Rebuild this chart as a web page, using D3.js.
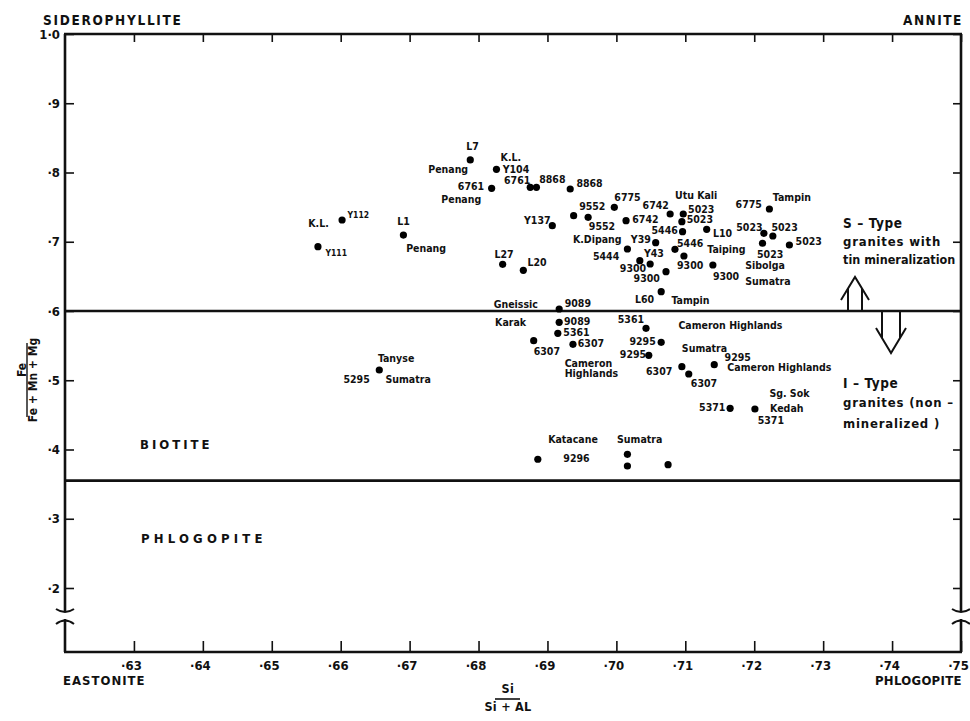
<!DOCTYPE html>
<html>
<head>
<meta charset="utf-8">
<script src="https://cdn.jsdelivr.net/npm/d3@7"></script>
<style>
  body { margin: 0; background: #fff; }
  text { font-family: "DejaVu Sans Condensed", "DejaVu Sans", sans-serif; fill: #111; }
</style>
</head>
<body>
<div id="chart"></div>
<script>
var svgWidth = 970;
var svgHeight = 721;

// axis ticks
var xTicks = [0.63, 0.64, 0.65, 0.66, 0.67, 0.68, 0.69, 0.70, 0.71, 0.72, 0.73, 0.74, 0.75];
var xTickLabels = ["·63", "·64", "·65", "·66", "·67", "·68", "·69", "·70", "·71", "·72", "·73", "·74", "·75"];
var yTicks = [1.0, 0.9, 0.8, 0.7, 0.6, 0.5, 0.4, 0.3, 0.2];
var yTickLabels = ["1·0", "·9", "·8", "·7", "·6", "·5", "·4", "·3", "·2"];

// field boundaries (Fe/(Fe+Mn+Mg))
var boundaries = [0.6, 0.355];

// biotite analyses: Si/(Si+Al) and Fe/(Fe+Mn+Mg)
var ptX = [0.6788, 0.6826, 0.6819, 0.6875, 0.6884, 0.6933, 0.6602, 0.6567, 0.6691, 0.6907,
           0.6938, 0.6959, 0.6835, 0.6865, 0.6917, 0.6917, 0.6915, 0.6880, 0.6937, 0.6656,
           0.6997, 0.7078, 0.7014, 0.7097, 0.7095, 0.7096, 0.7131, 0.7057, 0.7085, 0.7016,
           0.7098, 0.7034, 0.7049, 0.7072, 0.7140, 0.7065, 0.7222, 0.7214, 0.7227, 0.7212,
           0.7251, 0.7043, 0.7065, 0.7047, 0.7095, 0.7105, 0.7142, 0.7165, 0.7201, 0.6886,
           0.7016, 0.7016, 0.7075];
var ptY = [0.8181, 0.8046, 0.7772, 0.7786, 0.7786, 0.7762, 0.7314, 0.6929, 0.7097, 0.7232,
           0.7376, 0.7353, 0.6674, 0.6588, 0.6029, 0.5837, 0.5678, 0.5571, 0.5519, 0.5148,
           0.7497, 0.7401, 0.7304, 0.7401, 0.7290, 0.7145, 0.7180, 0.6987, 0.6891, 0.6895,
           0.6794, 0.6727, 0.6679, 0.6568, 0.6664, 0.6279, 0.7473, 0.7122, 0.7083, 0.6978,
           0.6953, 0.5750, 0.5548, 0.5360, 0.5196, 0.5090, 0.5225, 0.4595, 0.4585, 0.3859,
           0.3931, 0.3762, 0.3781];

// sample annotations, anchored in data units (left, baseline)
var labelText = ["L7", "K.L.", "Penang", "Y104", "6761", "Penang", "6761", "8868", "8868", "K.L.",
                 "Y112", "Y111", "L1", "Penang", "Y137", "9552", "L27", "L20", "Gneissic", "9089",
                 "6775", "6742", "Utu Kali", "5023", "9552", "6742", "5023", "5446", "L10", "K.Dipang",
                 "Y39", "5446", "Taiping", "5444", "Y43", "9300", "9300", "9300", "9300", "Sibolga",
                 "Sumatra", "L60", "Tampin", "6775", "Tampin", "5023", "5023", "5023", "5023", "5361",
                 "Cameron Highlands", "9089", "Karak", "5361", "6307", "6307", "Cameron", "Highlands", "Tanyse", "5295",
                 "Sumatra", "9295", "9295", "Sumatra", "9295", "Cameron Highlands", "6307", "6307", "Sg. Sok", "Kedah",
                 "5371", "5371", "Katacane", "Sumatra", "9296"];
var labelX = [0.6782, 0.6832, 0.6727, 0.6835, 0.6770, 0.6746, 0.6837, 0.6888, 0.6942, 0.6553,
              0.6610, 0.6578, 0.6682, 0.6695, 0.6866, 0.6946, 0.6823, 0.6871, 0.6822, 0.6925,
              0.6997, 0.7038, 0.7085, 0.7104, 0.6960, 0.7023, 0.7102, 0.7051, 0.7140, 0.6937,
              0.7021, 0.7088, 0.7132, 0.6966, 0.7040, 0.7005, 0.7025, 0.7088, 0.7140, 0.7187,
              0.7187, 0.7027, 0.7080, 0.7173, 0.7227, 0.7174, 0.7225, 0.7260, 0.7204, 0.7002,
              0.7090, 0.6924, 0.6824, 0.6923, 0.6944, 0.6880, 0.6925, 0.6925, 0.6654, 0.6604,
              0.6665, 0.7019, 0.7005, 0.7095, 0.7157, 0.7161, 0.7043, 0.7108, 0.7222, 0.7223,
              0.7120, 0.7205, 0.6901, 0.7001, 0.6923];
var labelY = [0.8325, 0.8170, 0.7997, 0.7997, 0.7747, 0.7564, 0.7834, 0.7853, 0.7786, 0.7217,
              0.7339, 0.6794, 0.7242, 0.6847, 0.7252, 0.7459, 0.6761, 0.6650, 0.6048, 0.6053,
              0.7588, 0.7477, 0.7613, 0.7411, 0.7170, 0.7266, 0.7266, 0.7112, 0.7073, 0.6978,
              0.6978, 0.6929, 0.6833, 0.6736, 0.6775, 0.6568, 0.6423, 0.6602, 0.6447, 0.6602,
              0.6375, 0.6120, 0.6101, 0.7483, 0.7584, 0.7160, 0.7160, 0.6953, 0.6761, 0.5822,
              0.5740, 0.5798, 0.5783, 0.5639, 0.5476, 0.5365, 0.5187, 0.5043, 0.5268, 0.4965,
              0.4960, 0.5509, 0.5326, 0.5412, 0.5278, 0.5138, 0.5076, 0.4898, 0.4754, 0.4546,
              0.4560, 0.4368, 0.4089, 0.4098, 0.3824];
var smallLabels = ["Y112", "Y111"];

// plot box in pixels
var plotLeft = 65, plotRight = 961, plotTop = 34, plotBottom = 652;

var svg = d3.select("#chart")
  .append("svg")
  .attr("width", svgWidth)
  .attr("height", svgHeight);

var x = d3.scaleLinear().domain([0.62, 0.75]).range([plotLeft, plotRight]);
var y = d3.scaleLinear().domain([0.2, 1.0]).range([588, plotTop]);

// axes (ticks point inwards)
var bottomAxis = d3.axisBottom(x).tickValues(xTicks).tickSize(-11).tickPadding(9)
  .tickFormat((d, i) => xTickLabels[i]);
var leftAxis = d3.axisLeft(y).tickValues(yTicks).tickSize(-9).tickPadding(5)
  .tickFormat((d, i) => yTickLabels[i]);
var topAxis = d3.axisTop(x).tickValues(xTicks).tickSize(-8).tickFormat("");
var rightAxis = d3.axisRight(y).tickValues(yTicks).tickSize(-8).tickFormat("");

function styleAxis(g) {
  g.select(".domain").remove();
  g.selectAll("line").attr("stroke", "#111").attr("stroke-width", 1.6);
  g.selectAll("text")
    .attr("font-family", "DejaVu Sans Condensed, DejaVu Sans, sans-serif")
    .attr("font-size", "13px")
    .attr("font-weight", "bold")
    .attr("fill", "#111");
}

svg.append("g").attr("transform", `translate(0, ${plotBottom})`).call(bottomAxis).call(styleAxis)
  .selectAll("text").attr("dx", "-3");
svg.append("g").attr("transform", `translate(${plotLeft}, 0)`).call(leftAxis).call(styleAxis);
svg.append("g").attr("transform", `translate(0, ${plotTop})`).call(topAxis).call(styleAxis);
svg.append("g").attr("transform", `translate(${plotRight}, 0)`).call(rightAxis).call(styleAxis);

// frame with axis breaks
var frame = svg.append("g")
  .attr("fill", "none")
  .attr("stroke", "#111")
  .attr("stroke-width", 2.6);
frame.append("line").attr("x1", plotLeft - 1).attr("x2", plotRight + 1).attr("y1", plotTop).attr("y2", plotTop);
frame.append("line").attr("x1", plotLeft - 1).attr("x2", plotRight + 1).attr("y1", plotBottom).attr("y2", plotBottom);
[plotLeft, plotRight].forEach(function(xx) {
  frame.append("line").attr("x1", xx).attr("x2", xx).attr("y1", plotTop).attr("y2", 611);
  frame.append("line").attr("x1", xx).attr("x2", xx).attr("y1", 619).attr("y2", plotBottom);
  frame.append("path").attr("stroke-width", 2)
    .attr("d", `M${xx - 9},609 Q${xx},615 ${xx + 9},609`);
  frame.append("path").attr("stroke-width", 2)
    .attr("d", `M${xx - 9},624 Q${xx},617 ${xx + 9},624`);
});

// field boundaries
svg.append("g").selectAll("line")
  .data(boundaries)
  .enter()
  .append("line")
  .attr("x1", plotLeft).attr("x2", plotRight)
  .attr("y1", d => y(d)).attr("y2", d => y(d))
  .attr("stroke", "#111")
  .attr("stroke-width", 2.6);

// sample points
svg.append("g").selectAll("circle")
  .data(ptX)
  .enter()
  .append("circle")
  .attr("cx", d => x(d))
  .attr("cy", (d, i) => y(ptY[i]))
  .attr("r", 3.6)
  .attr("fill", "#000");

// sample labels
svg.append("g").selectAll("text")
  .data(labelText)
  .enter()
  .append("text")
  .attr("x", (d, i) => x(labelX[i]))
  .attr("y", (d, i) => y(labelY[i]))
  .attr("font-size", d => smallLabels.includes(d) ? "8.5px" : "10.5px")
  .attr("font-weight", "bold")
  .text(d => d);

// end-member and field names
function label(txt, xx, yy, size, spacing) {
  return svg.append("text")
    .attr("x", xx).attr("y", yy)
    .attr("font-size", size + "px")
    .attr("font-weight", "bold")
    .attr("letter-spacing", spacing)
    .text(txt);
}
label("SIDEROPHYLLITE", 43, 25, 13.5, 1.7);
label("ANNITE", 903, 25, 13.5, 1.5);
label("EASTONITE", 63, 685, 13, 1);
label("PHLOGOPITE", 875, 685, 13, 0.3);
label("BIOTITE", 140, 449, 13, 3);
label("PHLOGOPITE", 141, 543, 13, 4.2);

label("S – Type", 843, 228, 13.5, 0.6);
label("granites with", 843, 246, 13, 0.8);
label("tin mineralization", 843, 264, 12.5, 0);
label("I – Type", 843, 388, 13.5, 0.6);
label("granites (non –", 843, 407, 13, 0.8);
label("mineralized )", 843, 428, 13, 0.8);

// x title: Si / (Si + Al)
label("Si", 508, 693, 12.5, 0.5).attr("text-anchor", "middle");
svg.append("line").attr("x1", 495).attr("x2", 520).attr("y1", 699).attr("y2", 699)
  .attr("stroke", "#111").attr("stroke-width", 1.6);
label("Si + AL", 508, 711, 12.5, 0.3).attr("text-anchor", "middle");

// y title: Fe / (Fe + Mn + Mg)
var yTitle = svg.append("g").attr("transform", "translate(0, 380) rotate(-90)");
yTitle.append("text").attr("x", 10).attr("y", 26)
  .attr("text-anchor", "middle").attr("font-size", "12px").attr("font-weight", "bold").text("Fe");
yTitle.append("line").attr("x1", -37).attr("x2", 37).attr("y1", 27).attr("y2", 27)
  .attr("stroke", "#111").attr("stroke-width", 1.4);
yTitle.append("text").attr("x", 0).attr("y", 37)
  .attr("text-anchor", "middle").attr("font-size", "12px").attr("font-weight", "bold").text("Fe + Mn + Mg");

// open arrows across the S/I boundary
var arrows = svg.append("g").attr("fill", "none").attr("stroke", "#111").attr("stroke-width", 2);
var yb = y(boundaries[0]);
arrows.append("path").attr("d", `M841,300 L855,277 L869,300 M848,288.5 L848,${yb} M862,288.5 L862,${yb}`);
arrows.append("path").attr("d", `M876,328 L891,353 L906,328 M882,338 L882,${yb} M900,338 L900,${yb}`);
</script>
</body>
</html>
